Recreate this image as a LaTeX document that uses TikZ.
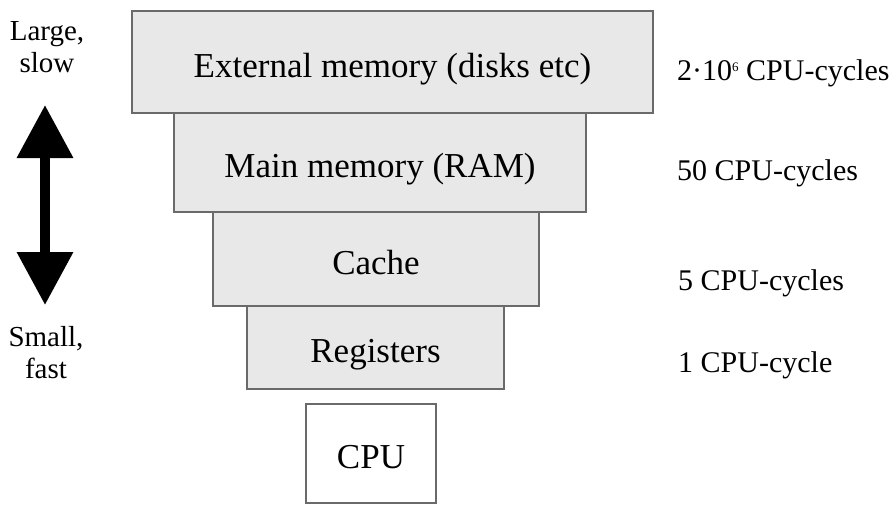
\documentclass[tikz,border=0pt]{standalone}
\usepackage{fontspec}
\setmainfont{Liberation Serif}
\usetikzlibrary{arrows.meta}
\definecolor{boxfill}{HTML}{E8E8E8}
\definecolor{boxline}{HTML}{6A6A6A}
\begin{document}
\begin{tikzpicture}[x=1pt,y=-1pt,
  levelbox/.style={draw=boxline, line width=1.6pt, fill=boxfill, inner sep=0pt,
    text height=30pt, text depth=0pt, font=\fontsize{35}{40}\selectfont},
  cpubox/.style={levelbox, fill=white},
  costlabel/.style={anchor=west, inner sep=0pt, font=\fontsize{30}{34}\selectfont},
  sidelabel/.style={align=center, inner sep=0pt, font=\fontsize{29}{32}\selectfont},
  bigarrow/.style={line width=10pt, {Triangle[length=53pt,width=54pt]}-{Triangle[length=53pt,width=54pt]}}]
\useasboundingbox (0,0) rectangle (892,506);
\node[levelbox, minimum width=521pt, minimum height=102pt] (ext) at (392.5,62) {External memory (disks etc)};
\node[levelbox, minimum width=412pt, minimum height=99pt] (ram) at (380,162.5) {Main memory (RAM)};
\node[levelbox, minimum width=326pt, minimum height=94pt] (cache) at (376,259) {Cache};
\node[levelbox, minimum width=257pt, minimum height=83pt] (reg) at (375.5,347.5) {Registers};
\node[cpubox, minimum width=130pt, minimum height=99pt] (cpu) at (371,453.5) {CPU};

\node[costlabel] (c1) at (677,73) {2·10\raisebox{9pt}{\fontsize{13}{14}\selectfont 6} CPU-cycles};
\node[costlabel] (c2) at (677,173) {50 CPU-cycles};
\node[costlabel] (c3) at (678,283) {5 CPU-cycles};
\node[costlabel] (c4) at (678,365) {1 CPU-cycle};

\node[sidelabel] (large) at (47,47) {Large,\\slow};
\node[sidelabel] (small) at (46,353) {Small,\\fast};

\coordinate (up) at (45,105);
\coordinate (down) at (45,305);
\draw[bigarrow] (up) -- (down);
\end{tikzpicture}
\end{document}
